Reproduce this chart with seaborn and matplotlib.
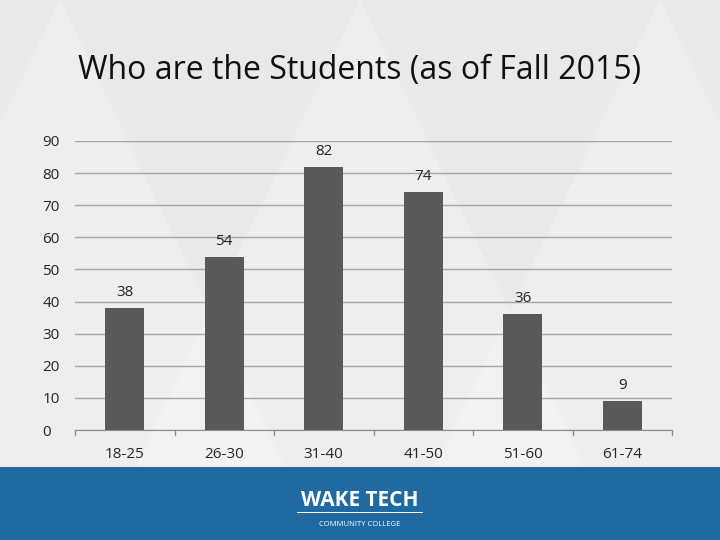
import matplotlib
matplotlib.use("Agg")
import matplotlib.pyplot as plt
import seaborn as sns
import pandas as pd
from matplotlib.patches import Rectangle, Polygon

ages = ["18-25", "26-30", "31-40", "41-50", "51-60", "61-74"]
counts = [38, 54, 82, 74, 36, 9]
df = pd.DataFrame({"age": ages, "count": counts})

sns.set_style("white")
plt.rcParams["font.family"] = ["Open Sans", "DejaVu Sans"]

fig = plt.figure(figsize=(7.2, 5.4), dpi=100)
fig.patch.set_facecolor("#e9e9e9")

# faint diagonal background pattern
bg = fig.add_axes([0, 0, 1, 1])
bg.set_xlim(0, 720); bg.set_ylim(540, 0); bg.axis("off")
for x0 in [-200, 100, 400, 700]:
    bg.add_patch(Polygon([[x0, 540], [x0 + 260, 0], [x0 + 520, 540]],
                         closed=True, facecolor="white", alpha=0.25, edgecolor="none"))
bg.add_patch(Rectangle((0, 467), 720, 73, facecolor="#1f6aa3", edgecolor="none"))
bg.text(360, 500, "WAKE TECH", color="white", fontsize=15, ha="center", va="center", fontweight="bold")
bg.add_patch(Rectangle((297, 512), 126, 1.2, facecolor="white", edgecolor="none"))
bg.text(360, 524, "COMMUNITY COLLEGE", color="white", fontsize=5.5, ha="center", va="center")
bg.text(360, 70, "Who are the Students (as of Fall 2015)", fontsize=23, ha="center", va="center", color="#111111")

ax = fig.add_axes([75 / 720, 110 / 540, 597 / 720, 289 / 540])
ax.set_facecolor("none")
sns.barplot(data=df, x="age", y="count", color="#595959", width=0.39, saturation=1,
            edgecolor="none", linewidth=0, ax=ax)
ax.set_ylim(0, 90)
ax.set_yticks(range(0, 91, 10))
ax.grid(axis="y", color="#a6a6a6", linewidth=1)
ax.set_axisbelow(True)
for s in ["top", "right", "left"]:
    ax.spines[s].set_visible(False)
ax.spines["bottom"].set_color("#8c8c8c")
ax.set_xlabel(""); ax.set_ylabel("")
ax.tick_params(axis="y", length=0, pad=0, labelsize=11)
ax.tick_params(axis="x", length=0, pad=12, labelsize=11)
for lbl in ax.get_yticklabels():
    lbl.set_horizontalalignment("left")
    lbl.set_x(-0.055)
for i in range(7):
    ax.plot([i - 0.5, i - 0.5], [0, -1.5], color="#8c8c8c", lw=1, clip_on=False)
ax.set_xlim(-0.5, 5.5)
for i, v in enumerate(counts):
    ax.text(i, v + 2.5, str(v), ha="center", va="bottom", fontsize=11, color="#222222")

fig.savefig("out.png", dpi=100, facecolor=fig.get_facecolor())
